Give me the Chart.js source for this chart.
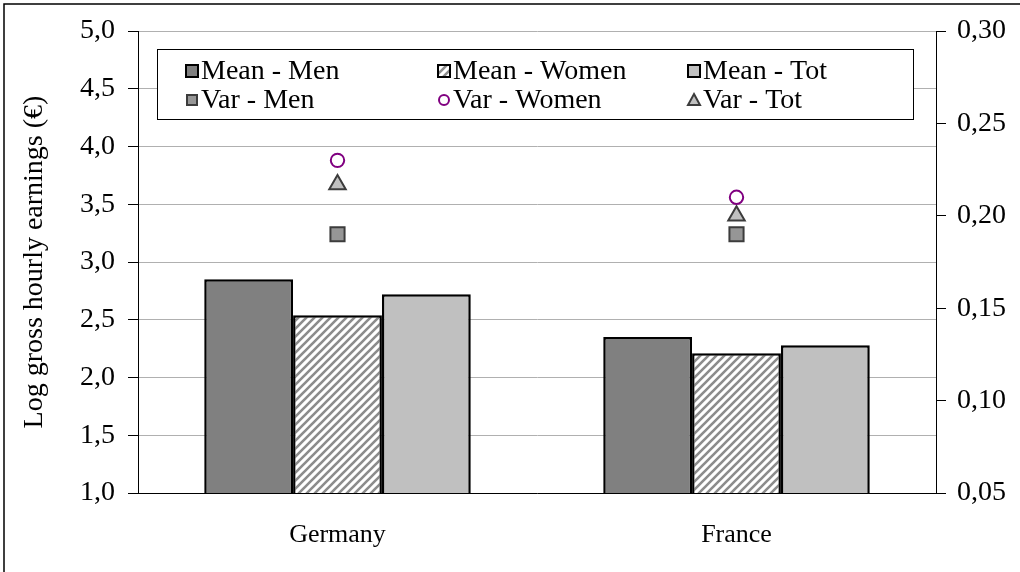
<!DOCTYPE html>
<html><head><meta charset="utf-8">
<script src="https://cdn.jsdelivr.net/npm/chart.js@4.4.0/dist/chart.umd.min.js"></script>
<style>html,body{margin:0;padding:0;background:#fff;} canvas{display:block}</style>
</head><body>
<canvas id="c" width="1020" height="572"></canvas>
<script>
const categories = ['Germany', 'France'];
const meanMen = [2.85, 2.35];
const meanWomen = [2.54, 2.21];
const meanTot = [2.72, 2.28];
const varMen = [0.19, 0.19];
const varWomen = [0.23, 0.21];
const varTot = [0.217, 0.20];
const seriesLabels = ['Mean - Men', 'Mean - Women', 'Mean - Tot', 'Var - Men', 'Var - Women', 'Var - Tot'];
const leftAxisTitle = 'Log gross hourly earnings (€)';
const leftRange = [1.0, 5.0, 0.5];
const rightRange = [0.05, 0.30, 0.05];

const FONT = '"Liberation Serif", "Times New Roman", serif';
const canvas = document.getElementById('c');
const ctx = canvas.getContext('2d');

function hatchPattern() {
  const c = document.createElement('canvas');
  c.width = 8; c.height = 8;
  const g = c.getContext('2d');
  g.fillStyle = '#ffffff'; g.fillRect(0, 0, 8, 8);
  g.strokeStyle = '#8c8c8c'; g.lineWidth = 2.6;
  g.beginPath();
  g.moveTo(-2, 10); g.lineTo(10, -2);
  g.moveTo(-6, 6); g.lineTo(6, -6);
  g.moveTo(2, 14); g.lineTo(14, 2);
  g.stroke();
  return ctx.createPattern(c, 'repeat');
}
const hatch = hatchPattern();

const comma = (v, d) => Number(v).toFixed(d).replace('.', ',');

const framePlugin = {
  id: 'frame',
  beforeDraw(chart) {
    const g = chart.ctx;
    g.save();
    g.fillStyle = '#fff';
    g.fillRect(0, 0, chart.width, chart.height);
    g.strokeStyle = '#000';
    g.lineWidth = 1.5;
    g.beginPath();
    g.moveTo(4, chart.height); g.lineTo(4, 4); g.lineTo(chart.width, 4);
    g.stroke();
    g.restore();
  }
};

function drawMarker(g, ds, x, y) {
  if (ds.type === 'line') {
    g.fillStyle = ds.pointBackgroundColor;
    g.strokeStyle = ds.pointBorderColor;
    g.lineWidth = 2;
    g.beginPath();
    if (ds.pointStyle === 'rect') {
      g.rect(x - 5, y - 5, 10, 10);
    } else if (ds.pointStyle === 'circle') {
      g.arc(x, y, 5, 0, Math.PI * 2);
    } else {
      g.moveTo(x, y - 6); g.lineTo(x + 6, y + 5); g.lineTo(x - 6, y + 5); g.closePath();
    }
    g.fill(); g.stroke();
  } else {
    g.fillStyle = ds.backgroundColor;
    g.fillRect(x - 6, y - 6, 12, 12);
    g.strokeStyle = '#000'; g.lineWidth = 2;
    g.strokeRect(x - 6, y - 6, 12, 12);
  }
}

const legendPlugin = {
  id: 'boxLegend',
  afterDatasetsDraw(chart) {
    const g = chart.ctx;
    g.save();
    g.fillStyle = '#fff';
    g.fillRect(157, 49, 756, 70);
    g.strokeStyle = '#000'; g.lineWidth = 1;
    g.strokeRect(157.5, 49.5, 756, 70);
    const cols = [207, 459, 709];
    const rows = [71, 100];
    g.font = '28px ' + FONT;
    g.textBaseline = 'middle';
    g.textAlign = 'left';
    chart.data.datasets.forEach((ds, i) => {
      const col = i % 3, row = Math.floor(i / 3);
      const tx = cols[col], ty = rows[row];
      drawMarker(g, ds, tx - 15, ty);
      g.fillStyle = '#000';
      g.fillText(ds.label, tx - 6, ty + 1);
    });
    g.restore();
  }
};

new Chart(ctx, {
  data: {
    labels: categories,
    datasets: [
      { type: 'bar', label: seriesLabels[0], data: meanMen, yAxisID: 'y', backgroundColor: '#808080', borderColor: '#000', borderWidth: 2.5, borderSkipped: false, order: 2 },
      { type: 'bar', label: seriesLabels[1], data: meanWomen, yAxisID: 'y', backgroundColor: hatch, borderColor: '#000', borderWidth: 2.5, borderSkipped: false, order: 2 },
      { type: 'bar', label: seriesLabels[2], data: meanTot, yAxisID: 'y', backgroundColor: '#c0c0c0', borderColor: '#000', borderWidth: 2.5, borderSkipped: false, order: 2 },
      { type: 'line', label: seriesLabels[3], data: varMen, yAxisID: 'y1', showLine: false, pointStyle: 'rect', pointRadius: 10, pointBorderWidth: 2, pointBackgroundColor: '#969696', pointBorderColor: '#3c3c3c', backgroundColor: '#969696', borderColor: '#3c3c3c', order: 1 },
      { type: 'line', label: seriesLabels[4], data: varWomen, yAxisID: 'y1', showLine: false, pointStyle: 'circle', pointRadius: 6.7, pointBorderWidth: 2, pointBackgroundColor: '#ffffff', pointBorderColor: '#800080', backgroundColor: '#ffffff', borderColor: '#800080', order: 1 },
      { type: 'line', label: seriesLabels[5], data: varTot, yAxisID: 'y1', showLine: false, pointStyle: 'triangle', pointRadius: 9.5, pointBorderWidth: 2, pointBackgroundColor: '#c0c0c0', pointBorderColor: '#3c3c3c', backgroundColor: '#c0c0c0', borderColor: '#3c3c3c', order: 1 }
    ]
  },
  options: {
    responsive: false,
    devicePixelRatio: 1,
    animation: false,
    events: [],
    layout: { padding: { top: 31, left: 0, right: 0, bottom: 0 } },
    datasets: { bar: { categoryPercentage: 0.668, barPercentage: 1.0 } },
    plugins: { legend: { display: false }, tooltip: { enabled: false }, title: { display: false } },
    scales: {
      x: {
        type: 'category',
        offset: true,
        grid: { display: true, drawOnChartArea: false, drawTicks: false },
        border: { display: true, color: '#000', width: 1 },
        ticks: { color: '#000', font: { family: FONT, size: 26 }, padding: 27 },
        afterFit(s) { s.height = 79; }
      },
      y: {
        type: 'linear', position: 'left',
        min: leftRange[0], max: leftRange[1],
        grid: { color: '#b0b0b0', lineWidth: 1, tickColor: '#000', tickLength: 10, drawTicks: true },
        border: { display: true, color: '#000', width: 1 },
        ticks: { stepSize: leftRange[2], color: '#000', font: { family: FONT, size: 28 }, padding: 13, callback: v => comma(v, 1) },
        title: { display: true, text: leftAxisTitle, color: '#000', font: { family: FONT, size: 28 }, padding: { top: 18, bottom: 0 } },
        afterFit(s) { s.width = 138; }
      },
      y1: {
        type: 'linear', position: 'right',
        min: rightRange[0], max: rightRange[1],
        grid: { drawOnChartArea: false, tickColor: '#000', tickLength: 10, drawTicks: true },
        border: { display: true, color: '#000', width: 1 },
        ticks: { stepSize: rightRange[2], color: '#000', font: { family: FONT, size: 28 }, padding: 11, callback: v => comma(v, 2) },
        afterFit(s) { s.width = 84; }
      }
    }
  },
  plugins: [framePlugin, legendPlugin]
});
</script>
</body></html>
